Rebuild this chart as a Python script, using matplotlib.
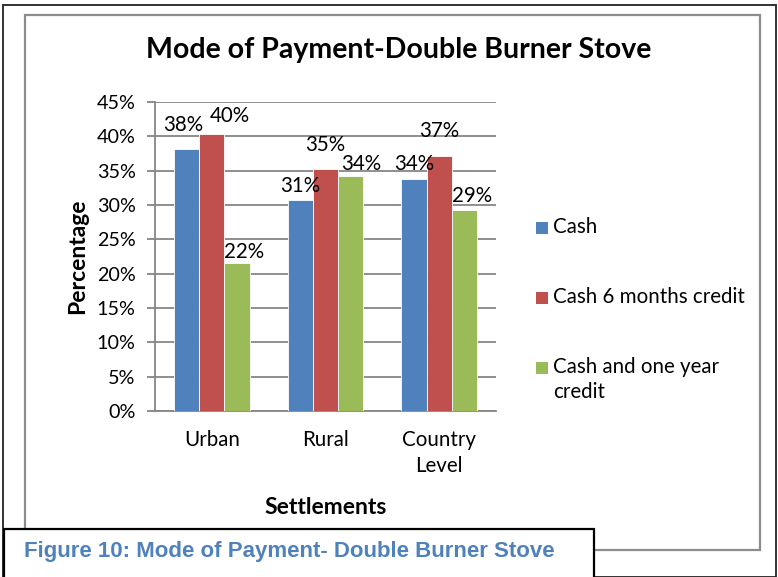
import matplotlib
matplotlib.use("Agg")
import matplotlib.pyplot as plt
import numpy as np
from matplotlib.patches import Rectangle

# Data
settlements = ["Urban", "Rural", "Country\nLevel"]
cash = [38.2, 30.7, 33.8]
cash_6m = [40.3, 35.2, 37.2]
cash_1y = [21.5, 34.2, 29.2]
series_names = ["Cash", "Cash 6 months credit", "Cash and one year\ncredit"]
label_text = [["38%", "31%", "34%"], ["40%", "35%", "37%"], ["22%", "34%", "29%"]]
y_ticks = [0, 5, 10, 15, 20, 25, 30, 35, 40, 45]

# Excel-like label nudges (pixels) so overlapping labels sit like the original
label_dx = [[-3, 0, 0], [18, 0, 0], [7, 10, 8]]
label_dy = [[14, 4, 5], [8, 14, 15], [1, 2, 4]]

colors = ["#4F81BD", "#C0504D", "#9BBB59"]
grid_col = "#868686"
body_font = ["Lato", "DejaVu Sans"]
fs = 14.2

W, H = 778, 577
fig = plt.figure(figsize=(W / 100, H / 100), dpi=100)


def px(x, y):
    """pixel position (from top-left) -> figure fraction"""
    return x / W, 1 - y / H


# page frames: outer black border, inner grey chart border
fig.patches.append(Rectangle((3 / W, 0), 773 / W, 572 / H, transform=fig.transFigure,
                             fill=False, edgecolor="#222222", linewidth=1.3))
fig.patches.append(Rectangle((25 / W, 1 - 550 / H), 735 / W, 535 / H, transform=fig.transFigure,
                             fill=False, edgecolor="#8c8c8c", linewidth=1.6))

ax = fig.add_axes([155 / W, 1 - 411 / H, 341 / W, 309 / H])

series = [cash, cash_6m, cash_1y]
x = np.arange(len(settlements))
bw = 1 / 4.5
for i, vals in enumerate(series):
    pos = x + (i - 1) * bw
    bars = ax.bar(pos, vals, width=bw, color=colors[i], label=series_names[i],
                  edgecolor="white", linewidth=0.6, zorder=3)
    for j, b in enumerate(bars):
        ax.annotate(label_text[i][j], (b.get_x() + b.get_width() / 2, b.get_height()),
                    xytext=(label_dx[i][j] * 0.72, label_dy[i][j] * 0.72),
                    textcoords="offset points", ha="center", va="bottom",
                    fontsize=fs + 0.6, family=body_font, zorder=4)

ax.set_xlim(-0.5, 2.5)
ax.set_ylim(0, 45)
ax.set_yticks(y_ticks)
ax.set_yticklabels([f"{t}%" for t in y_ticks], family=body_font, fontsize=fs)
ax.set_xticks(x)
ax.set_xticklabels(settlements, family=body_font, fontsize=fs + 0.6, linespacing=1.35)
ax.tick_params(axis="y", length=6, color=grid_col, width=1.3, pad=8)
ax.tick_params(axis="x", length=0, pad=14)
ax.grid(axis="y", color=grid_col, linewidth=1.3, zorder=0)
ax.set_axisbelow(True)
for s in ["top", "right"]:
    ax.spines[s].set_visible(False)
for s in ["left", "bottom"]:
    ax.spines[s].set_color(grid_col)
    ax.spines[s].set_linewidth(1.3)

ax.set_ylabel("Percentage", family=body_font, fontsize=16.5, fontweight="bold", labelpad=6)
ax.set_xlabel("Settlements", family=body_font, fontsize=16.5, fontweight="bold", labelpad=15)

fig.text(*px(399, 50), "Mode of Payment-Double Burner Stove", ha="center", va="center",
         family=body_font, fontsize=20.5, fontweight="bold")

# legend, laid out like Excel's (square beside the first line of each entry)
legend_y = [228, 298, 368]
for i, name in enumerate(series_names):
    fig.patches.append(Rectangle(px(536, legend_y[i] + 6), 12 / W, 12 / H,
                                 transform=fig.transFigure, facecolor=colors[i], edgecolor="none"))
    fig.text(*px(553, legend_y[i] - 11), name, ha="left", va="top", family=body_font,
             fontsize=fs + 0.6, linespacing=1.3)

# caption box
fig.patches.append(Rectangle((4 / W, -0.01), 590 / W, (H - 529) / H + 0.01, transform=fig.transFigure,
                             facecolor="white", edgecolor="black", linewidth=1.6, zorder=5))
fig.text(*px(24, 551), "Figure 10: Mode of Payment- Double Burner Stove", ha="left", va="center",
         family="Liberation Sans", fontsize=16, fontweight="bold", color="#4F81BD", zorder=6)

fig.savefig("out.png", dpi=100)
